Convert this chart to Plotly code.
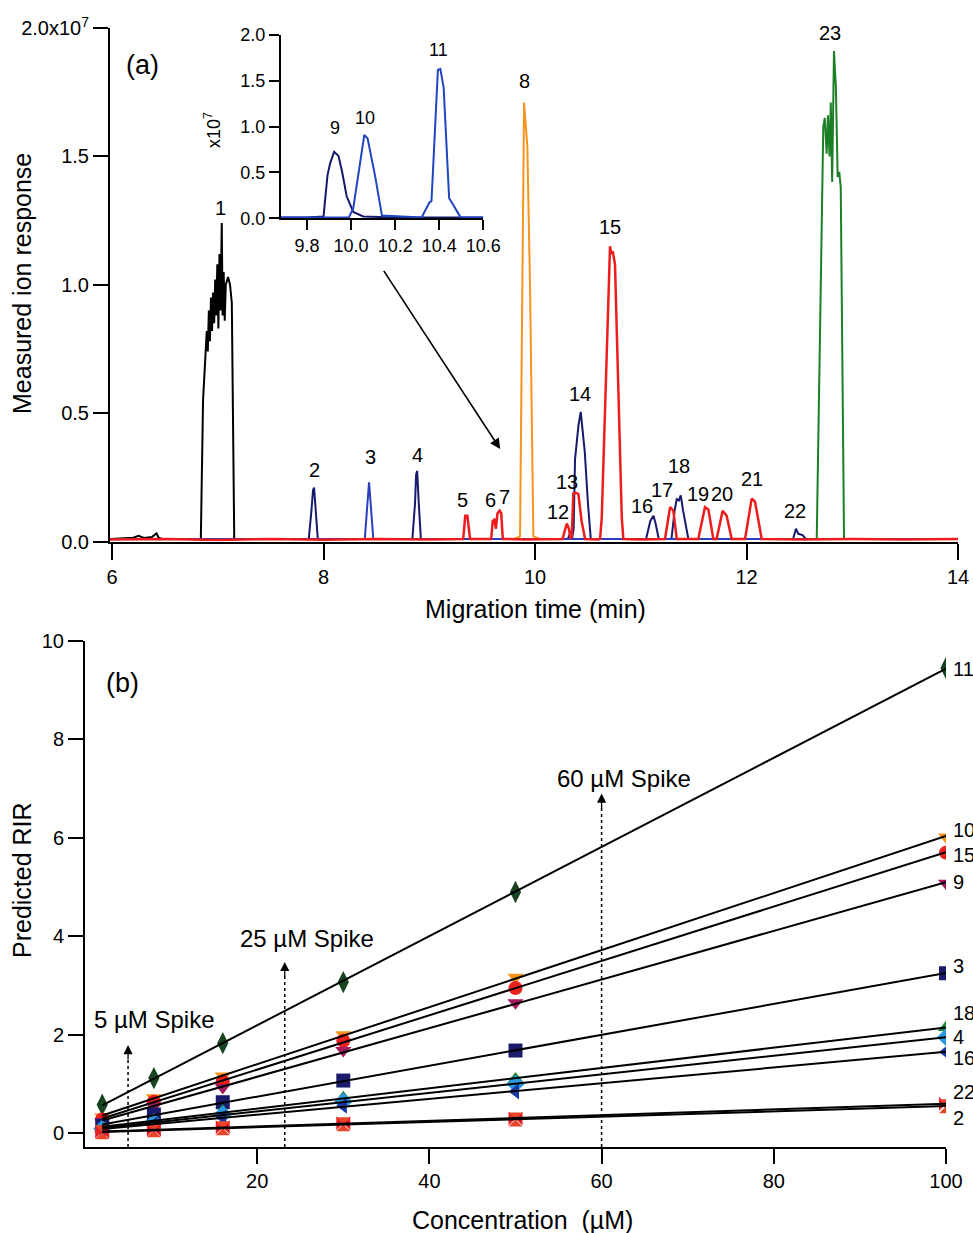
import numpy as np
import plotly.graph_objects as go

W, H = 973, 1233
FONT = "Liberation Sans"

# ---------------- Panel (a): electropherogram (units of 1e7) ----------------
black_t = [5.98, 6.1, 6.2, 6.25, 6.3, 6.38, 6.42, 6.44, 6.47, 6.6, 6.8, 6.839, 6.86, 6.879, 6.895, 6.905,
           6.915, 6.925, 6.935, 6.945, 6.955, 6.965, 6.975, 6.985, 6.995, 7.005, 7.015, 7.025, 7.037,
           7.045, 7.055, 7.065, 7.075, 7.097, 7.115, 7.132, 7.155, 7.3, 14.0]
black_v = [0.01, 0.012, 0.015, 0.022, 0.014, 0.018, 0.032, 0.015, 0.01, 0.01, 0.01, 0.01, 0.55, 0.68, 0.82,
           0.74, 0.90, 0.78, 0.95, 0.82, 0.97, 0.85, 1.02, 0.88, 1.08, 0.83, 1.12, 0.90, 1.24,
           0.88, 1.05, 0.86, 1.00, 1.03, 1.00, 0.93, 0.01, 0.01, 0.01]

navy_t = [5.98, 7.86, 7.885, 7.90, 7.91, 7.925, 7.945, 8.84, 8.865, 8.875, 8.885, 8.90, 8.92,
          10.31, 10.33, 10.35, 10.365, 10.378, 10.41, 10.432, 10.47, 10.50, 10.527,
          11.05, 11.09, 11.12, 11.14, 11.17, 11.29, 11.32, 11.34, 11.36, 11.378, 11.40, 11.45,
          12.44, 12.468, 12.49, 12.53, 12.56, 14.0]
navy_v = [0.01, 0.01, 0.12, 0.2, 0.21, 0.12, 0.01, 0.01, 0.15, 0.26, 0.275, 0.15, 0.01,
          0.01, 0.03, 0.01, 0.05, 0.32, 0.45, 0.505, 0.35, 0.15, 0.01,
          0.01, 0.08, 0.10, 0.07, 0.01, 0.01, 0.12, 0.165, 0.16, 0.18, 0.12, 0.01,
          0.01, 0.05, 0.03, 0.025, 0.01, 0.01]

blue_t = [5.98, 8.39, 8.415, 8.43, 8.445, 8.47, 14.0]
blue_v = [0.01, 0.01, 0.15, 0.23, 0.15, 0.01, 0.01]

orange_t = [9.80, 9.858, 9.896, 9.927, 9.953, 9.984, 10.05]
orange_v = [0.01, 0.02, 1.71, 1.54, 0.98, 0.02, 0.01]

green_t = [12.6, 12.664, 12.726, 12.74, 12.758, 12.77, 12.785, 12.797, 12.81, 12.827, 12.845, 12.862,
           12.877, 12.891, 12.922, 13.0]
green_v = [0.01, 0.01, 1.615, 1.65, 1.51, 1.66, 1.5, 1.71, 1.40, 1.91, 1.77, 1.42, 1.44, 1.38, 0.01, 0.01]

red_t = [5.98, 6.5, 7.0, 7.5, 8.0, 8.5, 9.0, 9.32, 9.34, 9.36, 9.385, 9.585, 9.60, 9.615, 9.63, 9.645,
         9.665, 9.68, 9.695, 9.9, 10.26, 10.29, 10.30, 10.32, 10.335, 10.347, 10.362, 10.385, 10.41,
         10.44, 10.473, 10.6, 10.615, 10.631, 10.709, 10.72, 10.735, 10.756, 10.82, 10.835, 11.0,
         11.229, 11.277, 11.308, 11.34, 11.544, 11.607, 11.639, 11.686, 11.717, 11.774, 11.812, 11.86,
         11.986, 12.049, 12.08, 12.144, 12.5, 13.0, 13.5, 14.0]
red_v = [0.008, 0.01, 0.006, 0.01, 0.007, 0.01, 0.008, 0.01, 0.1, 0.1, 0.01, 0.01, 0.08, 0.085, 0.05, 0.11,
         0.12, 0.11, 0.01, 0.008, 0.01, 0.06, 0.07, 0.05, 0.01, 0.02, 0.187, 0.19, 0.185,
         0.08, 0.01, 0.008, 0.01, 0.095, 1.15, 1.12, 1.13, 1.08, 0.095, 0.01, 0.008,
         0.01, 0.134, 0.12, 0.01, 0.01, 0.134, 0.125, 0.01, 0.01, 0.12, 0.10, 0.01,
         0.01, 0.167, 0.155, 0.01, 0.008, 0.01, 0.008, 0.01]

peak_labels = ["1", "2", "3", "4", "5", "6", "7", "8", "12", "13", "14", "15", "16", "17", "18",
               "19", "20", "21", "22", "23"]
peak_label_t = [7.021, 7.91, 8.44, 8.884, 9.31, 9.575, 9.707, 9.896, 10.218, 10.30, 10.425, 10.709,
                11.016, 11.196, 11.364, 11.544, 11.77, 12.053, 12.459, 12.79]
peak_label_v = [1.298, 0.277, 0.331, 0.335, 0.16, 0.16, 0.172, 1.793, 0.114, 0.231, 0.574, 1.224,
                0.14, 0.199, 0.293, 0.184, 0.184, 0.242, 0.118, 1.98]

# inset
inset_navy_t = [9.682, 9.8, 9.875, 9.893, 9.905, 9.923, 9.943, 9.96, 9.98, 10.01, 10.055, 10.2, 10.6]
inset_navy_v = [0.01, 0.01, 0.02, 0.47, 0.6, 0.725, 0.68, 0.5, 0.24, 0.07, 0.02, 0.01, 0.01]
inset_blue_t = [9.682, 9.99, 10.01, 10.04, 10.06, 10.075, 10.09, 10.11, 10.14, 10.32, 10.355, 10.365,
                10.394, 10.405, 10.42, 10.445, 10.455, 10.497, 10.6]
inset_blue_v = [0.01, 0.01, 0.11, 0.6, 0.91, 0.87, 0.7, 0.45, 0.03, 0.01, 0.17, 0.19,
                1.62, 1.63, 1.43, 0.22, 0.18, 0.01, 0.01]
inset_labels = ["9", "10", "11"]
inset_label_t = [9.925, 10.065, 10.395]
inset_label_v = [0.98, 1.09, 1.84]

# ---------------- Panel (b): predicted RIR ----------------
conc = [2, 8, 16, 30, 50, 100]
compounds = ["11", "10", "15", "9", "3", "18", "4", "16", "22", "2"]
rir = {
    "11": [0.58, 1.12, 1.83, 3.07, 4.9, 9.45],
    "10": [0.33, 0.72, 1.16, 2.0, 3.17, 6.02],
    "15": [0.28, 0.64, 1.05, 1.88, 2.95, 5.7],
    "9":  [0.24, 0.55, 0.93, 1.68, 2.65, 5.08],
    "3":  [0.15, 0.38, 0.63, 1.07, 1.68, 3.25],
    "18": [0.1, 0.26, 0.45, 0.72, 1.1, 2.15],
    "4":  [0.09, 0.22, 0.38, 0.64, 1.0, 1.95],
    "16": [0.07, 0.18, 0.32, 0.56, 0.85, 1.65],
    "22": [0.03, 0.07, 0.12, 0.2, 0.3, 0.6],
    "2":  [0.02, 0.06, 0.1, 0.18, 0.28, 0.55],
}
symbols = {"11": "diamond-tall", "10": "triangle-down", "15": "circle", "9": "triangle-down",
           "3": "square", "18": "triangle-up", "4": "diamond", "16": "triangle-left",
           "22": "bowtie", "2": "hourglass"}
mcolors = {"11": "#17441f", "10": "#f7941d", "15": "#e8201e", "9": "#a3195b", "3": "#1b1b6b",
           "18": "#1f8a3c", "4": "#2a9be0", "16": "#1a37a6", "22": "#e81e25", "2": "#e8452a"}
end_label_y = {"11": 9.43, "10": 6.16, "15": 5.65, "9": 5.1, "3": 3.39, "18": 2.44, "4": 1.95,
               "16": 1.52, "22": 0.83, "2": 0.3}

spike_conc = [5, 23.2, 60]
spike_tip = [1.79, 3.48, 6.9]
spike_text = ["5 µM Spike", "25 µM Spike", "60 µM Spike"]
spike_text_x = [8.1, 25.8, 62.6]
spike_text_y = [2.32, 3.96, 7.2]


def px(x):
    return x / W


def py(y):
    return 1 - y / H


fig = go.Figure()

# panel a traces
for t, v, c, w in [(black_t, black_v, "black", 2), (navy_t, navy_v, "#151a6c", 2),
                   (blue_t, blue_v, "#2a3fc0", 2), (orange_t, orange_v, "#f7941d", 2),
                   (green_t, green_v, "#1c7f25", 2), (red_t, red_v, "#ee1d1d", 2.5)]:
    fig.add_trace(go.Scatter(x=t, y=v, mode="lines", line=dict(color=c, width=w),
                             xaxis="x", yaxis="y", showlegend=False, hoverinfo="skip"))

# inset traces
fig.add_trace(go.Scatter(x=inset_navy_t, y=inset_navy_v, mode="lines", line=dict(color="#141a6a", width=2),
                         xaxis="x3", yaxis="y3", showlegend=False))
fig.add_trace(go.Scatter(x=inset_blue_t, y=inset_blue_v, mode="lines", line=dict(color="#1f45c0", width=2),
                         xaxis="x3", yaxis="y3", showlegend=False))

# panel b markers then fit lines
for c in compounds:
    fig.add_trace(go.Scatter(x=conc, y=rir[c], mode="markers",
                             marker=dict(symbol=symbols[c], size=14 if c != "11" else 16, color=mcolors[c],
                                         line=dict(width=0)),
                             xaxis="x2", yaxis="y2", showlegend=False))
for c in compounds:
    k, b = np.polyfit(conc, rir[c], 1)
    xs = [conc[0], conc[-1]]
    fig.add_trace(go.Scatter(x=xs, y=[k * xs[0] + b, k * xs[1] + b], mode="lines",
                             line=dict(color="black", width=2), xaxis="x2", yaxis="y2", showlegend=False))

ann = []
tf = dict(family=FONT, size=20, color="black")
for lab, t, v in zip(peak_labels, peak_label_t, peak_label_v):
    ann.append(dict(x=t, y=v, xref="x", yref="y", text=lab, showarrow=False, font=tf))
for lab, t, v in zip(inset_labels, inset_label_t, inset_label_v):
    ann.append(dict(x=t, y=v, xref="x3", yref="y3", text=lab, showarrow=False,
                    font=dict(family=FONT, size=18, color="black")))
for c in compounds:
    ann.append(dict(x=100, y=end_label_y[c], xref="x2", yref="y2", text=c, showarrow=False,
                    xanchor="left", xshift=5, font=tf))
# arrow from inset to main region
ann.append(dict(x=9.67, y=0.36, xref="x", yref="y", ax=8.56, ay=1.06, axref="x", ayref="y",
                text="", showarrow=True, arrowhead=2, arrowsize=1.3, arrowwidth=1.6, arrowcolor="black"))
# spikes
shapes = []
for sc, tip, st, sx, sy in zip(spike_conc, spike_tip, spike_text, spike_text_x, spike_text_y):
    shapes.append(dict(type="line", xref="x2", yref="y2", x0=sc, x1=sc, y0=-0.28, y1=tip - 0.25,
                       line=dict(color="black", width=1.5, dash="dot")))
    ann.append(dict(x=sc, y=tip, xref="x2", yref="y2", ax=0, ay=16, text="", showarrow=True,
                    arrowhead=2, arrowsize=1.4, arrowwidth=1.3, arrowcolor="black"))
    ann.append(dict(x=sx, y=sy, xref="x2", yref="y2", text=st, showarrow=False,
                    font=dict(family=FONT, size=24, color="black")))

big = dict(family=FONT, size=25, color="black")


def paper_text(x, y, text, font, angle=0):
    return dict(x=px(x), y=py(y), xref="paper", yref="paper", text=text, showarrow=False,
                xanchor="center", yanchor="middle", textangle=angle, font=font)


ann += [
    paper_text(142, 65, "(a)", dict(family=FONT, size=27, color="black")),
    paper_text(122, 683, "(b)", dict(family=FONT, size=27, color="black")),
    paper_text(22, 284, "Measured ion response", big, -90),
    paper_text(535, 609, "Migration time (min)", big),
    paper_text(22, 880, "Predicted RIR", big, -90),
    paper_text(522, 1220, "Concentration  (µM)", big),
    paper_text(212, 130, "x10<sup>7</sup>", dict(family=FONT, size=18, color="black"), -90),
]

axis_common = dict(showgrid=False, zeroline=False, showline=True, linecolor="black", linewidth=2,
                   ticks="outside", tickcolor="black", tickwidth=2, mirror=False, automargin=False,
                   tickfont=dict(family=FONT, size=20, color="black"))
inset_common = dict(axis_common, ticklen=10, tickfont=dict(family=FONT, size=18, color="black"))

fig.update_layout(
    width=W, height=H, margin=dict(l=0, r=0, t=0, b=0, pad=0, autoexpand=False),
    paper_bgcolor="white", plot_bgcolor="rgba(0,0,0,0)", showlegend=False,
    xaxis=dict(axis_common, domain=[px(110), px(958)], range=[5.98, 14], anchor="y",
               tickvals=[6, 8, 10, 12, 14], ticklen=16),
    yaxis=dict(axis_common, domain=[py(541.5), py(28)], range=[0, 2.0], anchor="x",
               tickvals=[0, 0.5, 1.0, 1.5, 2.0],
               ticktext=["0.0", "0.5", "1.0", "1.5", "2.0x10<sup>7</sup>"], ticklen=15),
    xaxis2=dict(axis_common, domain=[px(85), px(946)], range=[0, 100], anchor="y2",
                tickvals=[20, 40, 60, 80, 100], ticklen=15),
    yaxis2=dict(axis_common, domain=[py(1147), py(641)], range=[-0.28, 10], anchor="x2",
                tickvals=[0, 2, 4, 6, 8, 10], ticklen=15),
    xaxis3=dict(inset_common, domain=[px(281), px(483.3)], range=[9.682, 10.6], anchor="y3",
                tickvals=[9.8, 10.0, 10.2, 10.4, 10.6], ticktext=["9.8", "10.0", "10.2", "10.4", "10.6"]),
    yaxis3=dict(inset_common, domain=[py(218.3), py(35)], range=[0, 2.0], anchor="x3",
                tickvals=[0, 0.5, 1.0, 1.5, 2.0], ticktext=["0.0", "0.5", "1.0", "1.5", "2.0"]),
    annotations=ann, shapes=shapes,
)

# remove the page's default body margin so the 973x1233 figure fills the window exactly
fig.write_html("out.html", config={"displayModeBar": False},
               post_script="document.body.style.margin='0';document.body.style.overflow='hidden';")
